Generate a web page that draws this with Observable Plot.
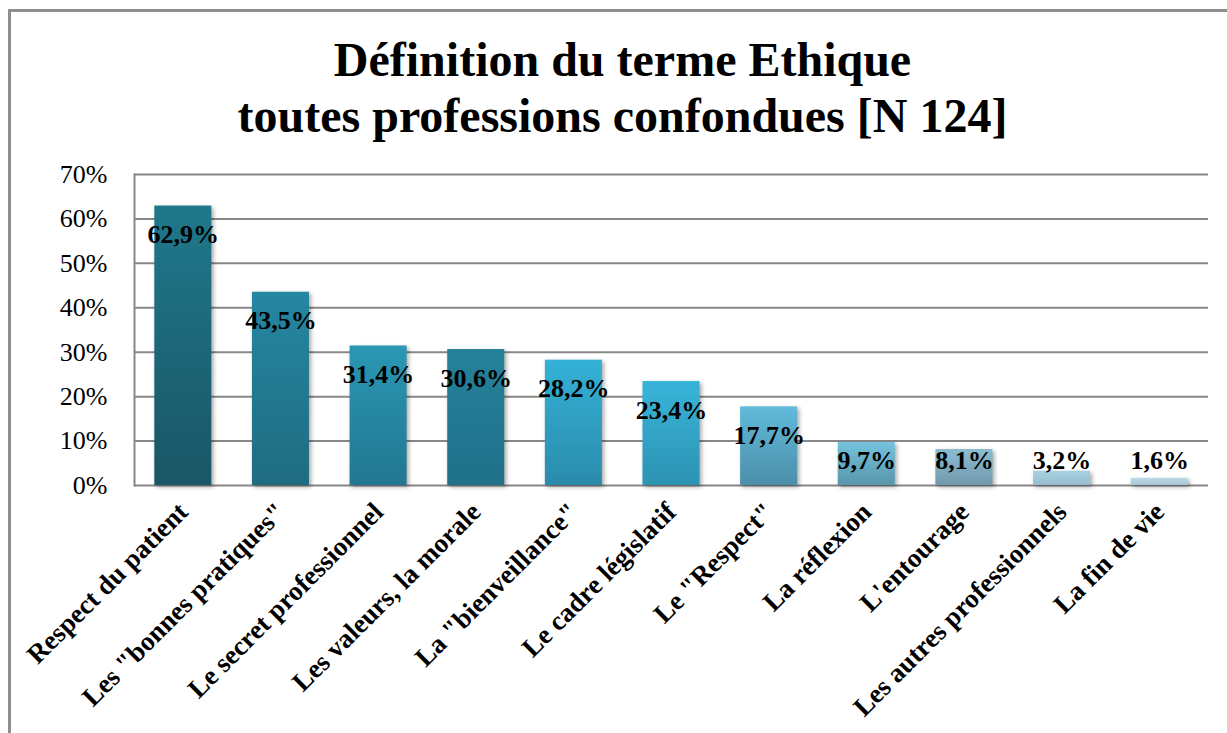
<!DOCTYPE html>
<html>
<head>
<meta charset="utf-8">
<script src="https://cdn.jsdelivr.net/npm/d3@7"></script>
<script src="https://cdn.jsdelivr.net/npm/@observablehq/plot@0.6"></script>
<style>
  html, body { margin: 0; padding: 0; overflow: hidden; background: #fff; }
  #frame { position: absolute; left: 8px; top: 9px; width: 1400px; height: 900px; border: 3px solid #8e8e8e; pointer-events: none; }
  #title { margin-left: 18px; width: 1209px; height: 150px; box-sizing: border-box; padding-top: 32px;
           font-family: "Liberation Serif", "Times New Roman", serif; font-weight: bold; font-size: 48px;
           line-height: 56px; text-align: center; color: #000; }
  #chart svg { display: block; }
  .bars { filter: drop-shadow(2px 2px 2px rgba(0,0,0,0.35)); }
</style>
</head>
<body>
<div id="title">Définition du terme Ethique<br>toutes professions confondues [N 124]</div>
<div id="chart"></div>
<div id="frame"></div>
<script>
const categories = [
  "Respect du patient",
  "Les \"bonnes pratiques\"",
  "Le secret professionnel",
  "Les valeurs, la morale",
  "La \"bienveillance\"",
  "Le cadre législatif",
  "Le \"Respect\"",
  "La réflexion",
  "L'entourage",
  "Les autres professionnels",
  "La fin de vie"
];
const values = [0.629, 0.435, 0.314, 0.306, 0.282, 0.234, 0.177, 0.097, 0.081, 0.032, 0.016];
const yTicks = [0, 0.1, 0.2, 0.3, 0.4, 0.5, 0.6, 0.7];
const topColors = ["#1f788b", "#2587a2", "#2a97b4", "#25819a", "#34b1d6", "#38b4d9", "#62badb", "#75c3dd", "#8cbcd0", "#a8d2e2", "#b9d9e5"];
const bottomColors = ["#1a5666", "#1f6c80", "#227791", "#20718a", "#2a8bab", "#2d93b3", "#4b8fa9", "#5896ab", "#7299ad", "#96bccc", "#a9c8d5"];

const data = categories.map((c, i) => ({cat: c, v: values[i], i}));
const fmt = v => (v * 100).toFixed(1).replace(".", ",") + "%";

const svg = Plot.plot({
  width: 1227,
  height: 583,
  marginTop: 24,
  marginBottom: 248,
  marginLeft: 134,
  marginRight: 19,
  style: {fontFamily: "'Liberation Serif', 'Times New Roman', serif", color: "#000", background: "transparent"},
  x: {domain: categories, paddingInner: 0.416, paddingOuter: 0.208, round: false, label: null},
  y: {domain: [0, 0.7], label: null},
  color: {type: "identity"},
  marks: [
    Plot.gridY(yTicks, {stroke: "#878787", strokeOpacity: 1, strokeWidth: 2}),
    Plot.frame({anchor: "left", stroke: "#878787", strokeWidth: 2}),
    Plot.barY(data, {x: "cat", y: "v", fill: d => `url(#g${d.i})`, className: "bars"}),
    Plot.text(data, {x: "cat", y: d => Math.max(d.v - 0.065, 0.056), text: d => fmt(d.v),
      fontSize: 26, fontWeight: "bold", fill: "#000"}),
    Plot.axisY({ticks: yTicks, tickSize: 0, tickPadding: 27, fontSize: 26,
      tickFormat: d => Math.round(d * 100) + "%"}),
    Plot.axisX({tickRotate: -45, tickSize: 0, tickPadding: 22, fontSize: 27, fontWeight: "bold"})
  ]
});

const defs = d3.select(svg).insert("defs", ":first-child");
data.forEach(d => {
  const g = defs.append("linearGradient").attr("id", `g${d.i}`)
    .attr("x1", 0).attr("y1", 0).attr("x2", 0).attr("y2", 1);
  g.append("stop").attr("offset", "0%").attr("stop-color", topColors[d.i]);
  g.append("stop").attr("offset", "100%").attr("stop-color", bottomColors[d.i]);
});

document.getElementById("chart").appendChild(svg);
</script>
</body>
</html>
